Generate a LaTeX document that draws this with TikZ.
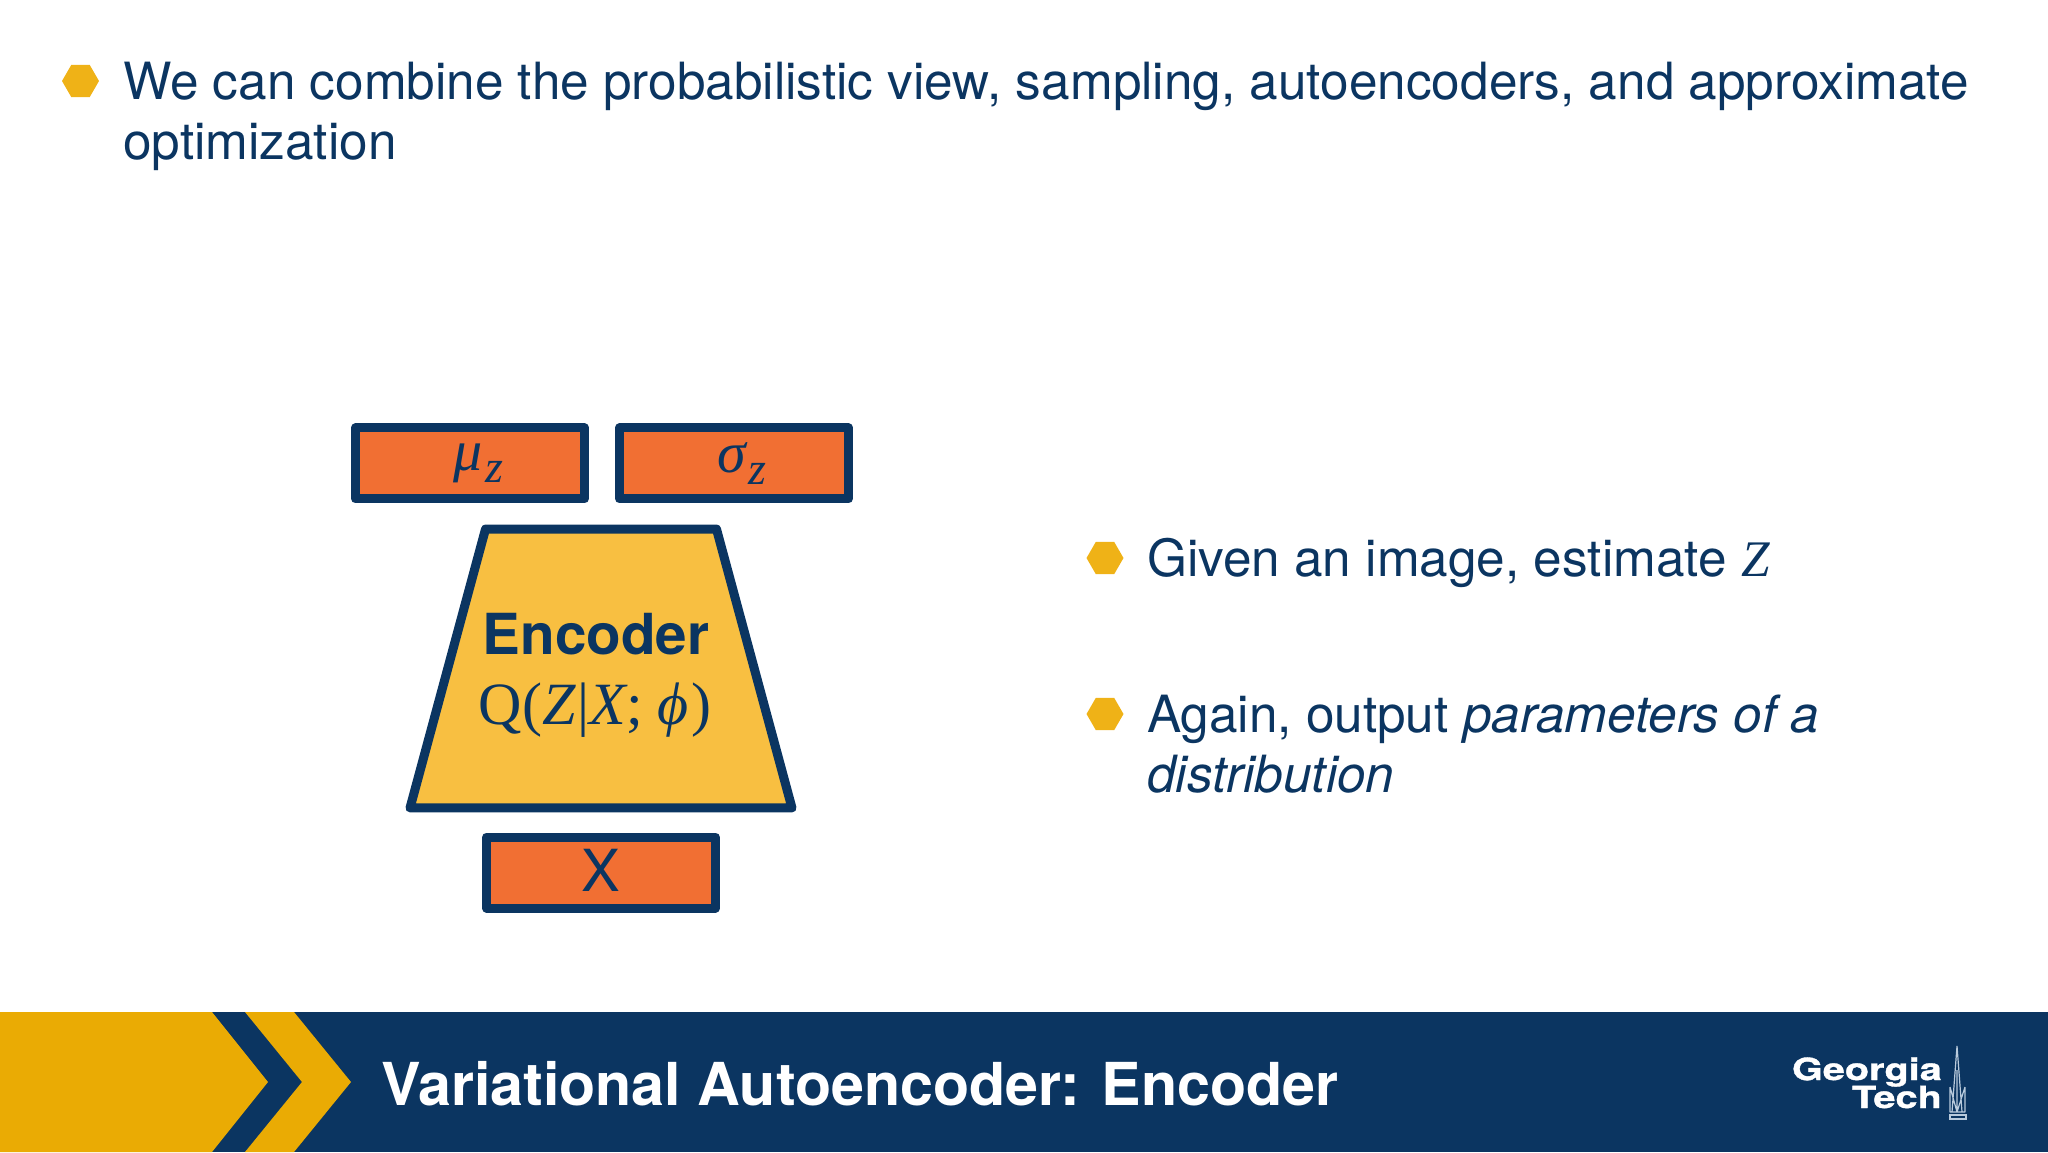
\documentclass[tikz,border=0pt]{standalone}
\usepackage{fontspec}
\setmainfont{TeX Gyre Heros}
\newfontfamily\logofont[FakeStretch=1.3,BoldFeatures={FakeBold=1.2}]{TeX Gyre Heros}
\newfontfamily\eqfont{Liberation Serif}
\usetikzlibrary{positioning,shapes.geometric}
\definecolor{gtnavy}{HTML}{0B3561}
\definecolor{gtgold}{HTML}{EAAB04}
\definecolor{hexgold}{HTML}{EFB217}
\definecolor{boxorange}{HTML}{F16F33}
\definecolor{encyellow}{HTML}{F8BF41}
\definecolor{towerblue}{HTML}{B9CBDD}
\newcommand{\subz}[1]{\hspace*{16pt}\raisebox{-4pt}{#1\hspace{3pt}\raisebox{-12pt}{\fontsize{46}{46}\selectfont z}}}

\begin{document}
\begin{tikzpicture}[
  x=1pt, y=-1pt,
  font=\fontsize{51.3}{60}\selectfont,
  text=gtnavy,
  box/.style={draw=gtnavy, fill=boxorange, line width=9pt, line join=round, minimum width=229pt, minimum height=71pt, inner sep=0pt},
  enc/.style={draw=gtnavy, fill=encyellow, line width=9pt, line join=round, trapezium, trapezium left angle=74.85, trapezium right angle=74.85, trapezium stretches body=true, minimum width=382pt, minimum height=277pt, inner xsep=-10pt, inner ysep=71pt, align=center},
  hexbullet/.style={fill=hexgold, regular polygon, regular polygon sides=6, minimum size=37pt, inner sep=0pt},
  txt/.style={anchor=base west, inner sep=0pt, align=left}
]
\useasboundingbox (0,0) rectangle (2048,1152);

% banner
\fill[gtnavy] (0,1012) rectangle (2048,1152);
\fill[gtgold] (0,1012) -- (212,1012) -- (268,1082) -- (212,1152) -- (0,1152) -- cycle;
\fill[gtgold] (245,1012) -- (294,1012) -- (351,1082) -- (294,1152) -- (245,1152) -- (302,1082) -- cycle;
\node[txt, text=white, font=\fontsize{59.2}{60}\selectfont\bfseries] (title) at (381,1105) {Variational Autoencoder: Encoder};

% logo
\node[anchor=base east, inner sep=0pt, text=white, font=\fontsize{30.5}{31}\logofont\bfseries] (georgia) at (1942,1080) {Georgia};
\node[anchor=base east, inner sep=0pt, text=white, font=\fontsize{30.5}{31}\logofont\bfseries] (tech) at (1942,1108) {Tech};
\draw[towerblue, line width=1.2pt, line join=round] (1957,1046) -- (1952,1112) (1957,1046) -- (1962,1112)
  (1957,1070) -- (1957,1112) (1950,1087) -- (1950,1112) -- (1957,1112) -- (1965,1112) -- (1965,1087)
  (1950,1087) -- (1957,1112) -- (1965,1087);
\draw[towerblue, line width=1.2pt] (1950,1115) rectangle (1966,1119);

% top text
\node[hexbullet] (hex1) at (80.5,81) {};
\node[txt] (intro) at (123,159) {We can combine the probabilistic view, sampling, autoencoders, and approximate\\optimization};

% encoder
\node[enc] (encoder) at (601,668.5) {\rule{0pt}{54pt}{\fontsize{56.6}{74}\selectfont\bfseries Encoder}\hspace*{10pt}\\[10pt]{\fontsize{60}{78}\eqfont Q(\itshape Z\hspace{2pt}\upshape|\itshape X\upshape; \itshape ϕ\hspace{2pt}\upshape)}\hspace*{12pt}};

\node[box, above=21pt of encoder, xshift=-131pt, font=\fontsize{58}{58}\eqfont\itshape] (mu) {\subz{μ}};
\node[box, right=26pt of mu, font=\fontsize{58}{58}\eqfont\itshape] (sigma) {\subz{σ}};
\node[box, below=20pt of encoder, font=\fontsize{58}{58}\selectfont] (xinput) {\raisebox{5pt}{X}};

% right text
\node[hexbullet] (hex2) at (1105,558) {};
\node[txt] (given) at (1147,576) {Given an image, estimate {\eqfont\itshape Z}};
\node[hexbullet] (hex3) at (1105,714) {};
\node[txt] (again) at (1147,792) {Again, output \textit{parameters of a}\\\textit{distribution}};
\end{tikzpicture}
\end{document}
